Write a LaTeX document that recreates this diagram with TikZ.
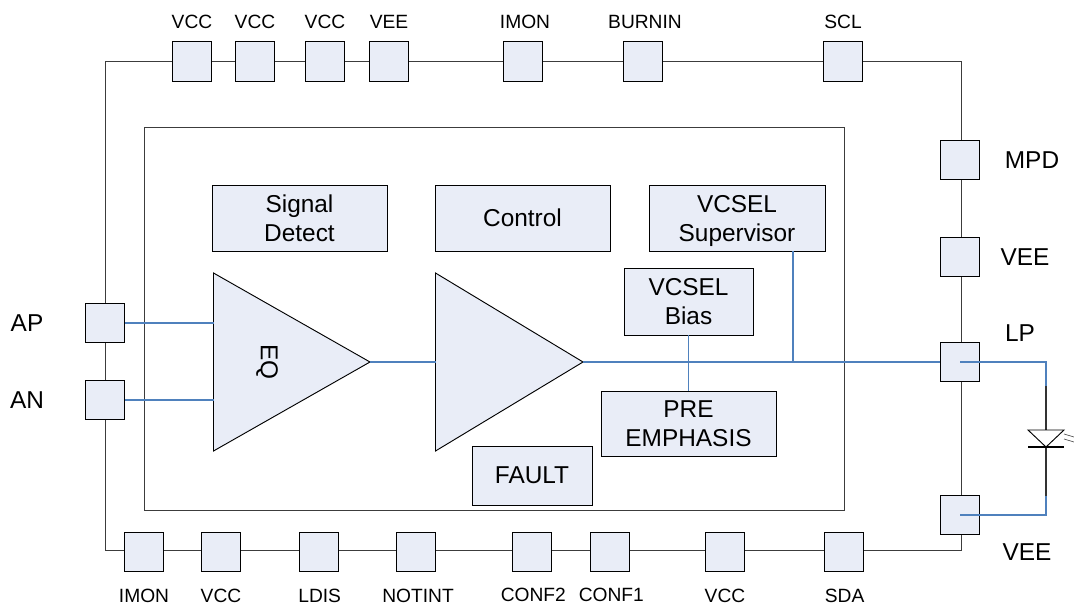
\documentclass[tikz,border=0pt]{standalone}
\usepackage{fontspec}
\setmainfont{Liberation Sans}
\usetikzlibrary{positioning}
\definecolor{padfill}{RGB}{233,237,247}
\definecolor{wireblue}{RGB}{79,129,189}
\definecolor{ringgray}{RGB}{60,60,60}
\begin{document}
\begin{tikzpicture}[x=0.75pt,y=-0.75pt]
\tikzstyle{pad}=[draw=black,line width=0.7pt,fill=padfill,minimum size=29.3pt,inner sep=0pt]
\tikzstyle{block}=[draw=black,line width=0.7pt,fill=padfill,align=center,inner sep=0pt,font=\fontsize{18.3}{21.75}\selectfont]
\tikzstyle{amp}=[draw=black,line width=0.7pt,fill=padfill]
\tikzstyle{frame}=[draw=ringgray,line width=0.7pt]
\tikzstyle{wire}=[draw=wireblue,line width=1pt]
\tikzstyle{lead}=[draw=black!80,line width=1.1pt]
\tikzstyle{small}=[inner sep=0pt,font=\fontsize{14.4}{16}\selectfont]
\tikzstyle{big}=[inner sep=0pt,font=\fontsize{18.3}{21.75}\selectfont]
\useasboundingbox (0,0) rectangle (1074,606);

\coordinate (ringA) at (105,61);
\coordinate (ringB) at (961,550);
\coordinate (coreA) at (144,127.5);
\coordinate (coreB) at (844,510);
\draw[frame] (ringA) rectangle (ringB);
\draw[frame] (coreA) rectangle (coreB);

\begin{scope}[shift={(0,61.5)},node distance=29.4pt]
    \node [pad] (vcc1) at (192,0) {};
    \node [pad] (vcc2) at (255,0) {};
    \node [pad] (vcc3) at (325,0) {};
    \node [pad] (vee1) at (389,0) {};
    \node [pad] (imon1) at (523,0) {};
    \node [pad] (burnin) at (643,0) {};
    \node [pad] (scl) at (843,0) {};
    \node [small,above of=vcc1] {VCC};
    \node [small,above of=vcc2] {VCC};
    \node [small,above of=vcc3] {VCC};
    \node [small,above of=vee1] {VEE};
    \node [small,above of=imon1, shift={(1.5pt,0pt)}] {IMON};
    \node [small,above of=burnin, shift={(1.5pt,0pt)}] {BURNIN};
    \node [small,above of=scl] {SCL};
\end{scope}

\begin{scope}[shift={(0,551.5)},node distance=33.5pt]
    \node [pad] (imon2) at (144,0) {};
    \node [pad] (vcc4) at (221,0) {};
    \node [pad] (ldis) at (319,0) {};
    \node [pad] (notint) at (416,0) {};
    \node [pad] (conf2) at (532,0) {};
    \node [pad] (conf1) at (610,0) {};
    \node [pad] (vcc5) at (725,0) {};
    \node [pad] (sda) at (844,0) {};
    \node [small,below of=imon2] {IMON};
    \node [small,below of=vcc4] {VCC};
    \node [small,below of=ldis, shift={(0.5pt,0pt)}] {LDIS};
    \node [small,below of=notint, shift={(1.5pt,0pt)}] {NOTINT};
    \node [small,below of=conf2, shift={(1pt,0.7pt)}] {CONF2};
    \node [small,below of=conf1, shift={(1pt,0.7pt)}] {CONF1};
    \node [small,below of=vcc5] {VCC};
    \node [small,below of=sda, shift={(0.5pt,0pt)}] {SDA};
\end{scope}

\begin{scope}[shift={(960,0)}]
    \node [pad] (mpd) at (0,160) {};
    \node [pad] (vee2) at (0,257) {};
    \node [pad] (lp) at (0,362) {};
    \node [pad] (vee3) at (0,515) {};
    \node [big] at (72,160) {MPD};
    \node [big] at (65,257) {VEE};
    \node [big] at (60,333) {LP};
    \node [big] at (67,552) {VEE};
\end{scope}

\node [pad] (ap) at (105,323) {};
\node [pad] (an) at (105,400) {};
\node [big] at (27,323) {AP};
\node [big] at (27,400) {AN};

% blocks
\node [block,minimum width=131.3pt,minimum height=49.5pt] (sigdet) at (299.5,218) {Signal\\Detect};
\node [block,minimum width=131.3pt,minimum height=49.5pt] (control) at (522.5,218) {Control};
\node [block,minimum width=132pt,minimum height=49.5pt] (super) at (737,218) {VCSEL\\\smash{Supervisor}};
\node [block,minimum width=96.8pt,minimum height=50.2pt] (bias) at (688.5,301.5) {VCSEL\\Bias};
\node [block,minimum width=131.3pt,minimum height=48.8pt] (preemph) at (688.5,423.5) {PRE\\EMPHASIS};
\node [block,minimum width=90pt,minimum height=44.3pt] (fault) at (532,475.5) {FAULT};

% amplifiers
\coordinate (eqA) at (213.5,273);
\coordinate (eqB) at (213.5,451);
\coordinate (eqC) at (370,362);
\coordinate (drvA) at (435.5,273);
\coordinate (drvB) at (435.5,451);
\coordinate (drvC) at (583,362);
\draw[amp] (eqA) -- (eqC) -- (eqB) -- cycle;
\draw[amp] (drvA) -- (drvC) -- (drvB) -- cycle;
\node [big,rotate=-90] (eq) at (267,362) {EQ};

% wires
\draw[wire] (ap.east) -- (ap.east -| eqA);
\draw[wire] (an.east) -- (an.east -| eqA);
\draw[wire] (eqC) -- (eqC -| drvA);
\draw[wire] (drvC) -- (lp.west);
\coordinate (tapS) at (793,362);
\draw[wire] (super.south -| tapS) -- (tapS);
\draw[wire] (bias.south) -- (preemph.north);

% laser diode
\coordinate (ldA) at (1046,362);
\coordinate (ldB) at (1046,386);
\coordinate (ldC) at (1046,430);
\coordinate (ldD) at (1046,447);
\coordinate (ldE) at (1046,496);
\coordinate (ldF) at (1046,515);
\draw[wire] (lp.center) -- (ldA) -- (ldB);
\draw[wire] (ldE) -- (ldF) -- (vee3.center);
\draw[lead] (ldB) -- (ldC);
\draw[lead] (ldD) -- (ldE);
\draw[line width=0.7pt] (1028,430) -- (1064,430) -- (ldD) -- cycle;
\draw[line width=0.9pt] (1028,447) -- (1064,447);
\draw[black!70,line width=0.5pt] (1064,434) -- (1074,437);
\draw[black!70,line width=0.5pt] (1064,439) -- (1074,442);
\end{tikzpicture}
\end{document}
